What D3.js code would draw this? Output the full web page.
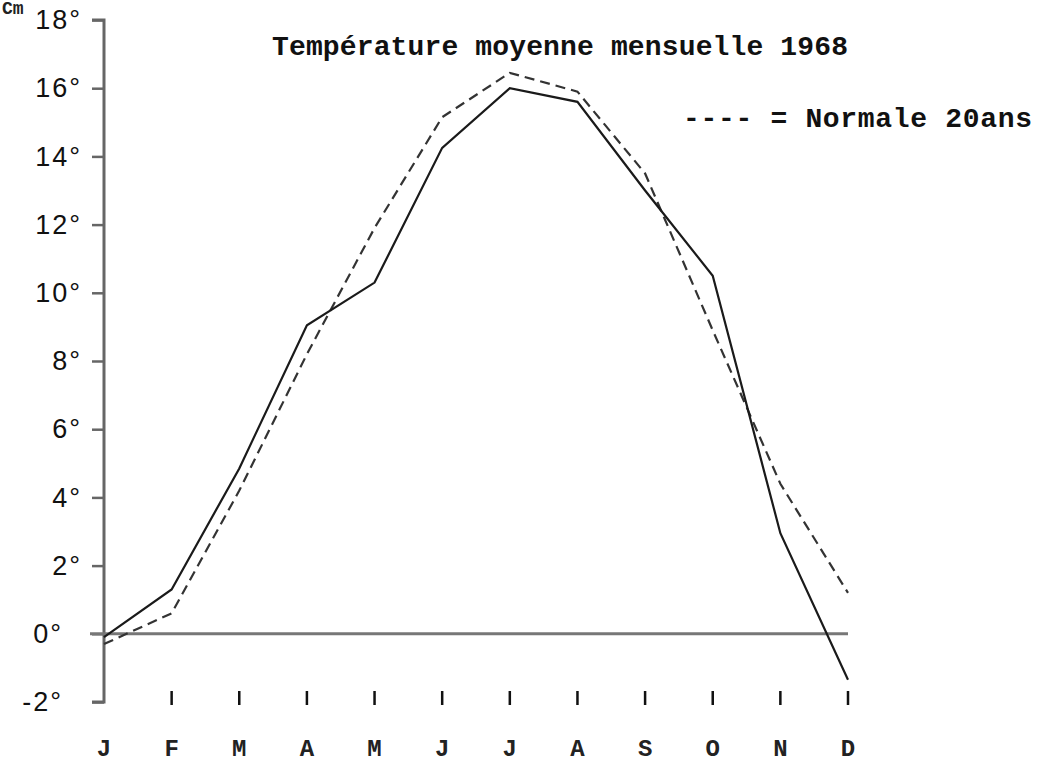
<!DOCTYPE html>
<html>
<head>
<meta charset="utf-8">
<script src="https://cdn.jsdelivr.net/npm/d3@7"></script>
<style>
body{margin:0;background:#fff;overflow:hidden}
</style>
</head>
<body>
<script>
const months = ["J","F","M","A","M","J","J","A","S","O","N","D"]
const temp1968 = [-0.1,1.3,4.85,9.05,10.3,14.25,16.0,15.6,13.0,10.5,2.95,-1.35]
const normale = [-0.3,0.6,4.2,8.2,11.9,15.15,16.45,15.9,13.5,8.9,4.4,1.2]
const yTicks = [-2,0,2,4,6,8,10,12,14,16,18]

const width = 1049,height = 765
const typewriter = "'Liberation Mono','DejaVu Sans Mono',monospace"

const svg = d3.select("body")
    .append("svg")
    .attr("width",width)
    .attr("height",height)

const x = d3.scalePoint().domain(d3.range(12)).range([104,848])
const y = d3.scaleLinear().domain([-2,18]).range([702,20])

// y axis, ticks pointing left
const yAxis = svg.append("g")
    .attr("transform","translate(104,0)")
    .call(d3.axisLeft(y).tickValues(yTicks).tickSize(12).tickPadding(10).tickFormat(d=>d+"°"))
yAxis.select(".domain").attr("stroke","#666").attr("stroke-width",3).attr("d","M-12,702H0V20H-12")
yAxis.selectAll(".tick line").attr("stroke","#666").attr("stroke-width",2.5)
yAxis.selectAll(".tick text")
    .attr("font-family","'Liberation Sans',Arial,sans-serif")
    .attr("font-size",27)
    .attr("letter-spacing",2)
    .attr("fill","#111")
    .attr("x",d=>d<=0?-41:-22)

// zero line
svg.append("line")
    .attr("x1",90).attr("x2",x(11))
    .attr("y1",y(0)).attr("y2",y(0))
    .attr("stroke","#777").attr("stroke-width",3)

// month ticks and labels
svg.selectAll(".mtick")
    .data(d3.range(1,12))
    .join("line")
    .attr("x1",d=>x(d)).attr("x2",d=>x(d))
    .attr("y1",691).attr("y2",705)
    .attr("stroke","#111").attr("stroke-width",2.5)

svg.selectAll(".mlabel")
    .data(months)
    .join("text")
    .attr("x",(d,i)=>x(i))
    .attr("y",756)
    .attr("text-anchor","middle")
    .attr("font-family",typewriter)
    .attr("font-weight","bold")
    .attr("font-size",24)
    .attr("fill","#222")
    .text(d=>d)

const line = d3.line().x((d,i)=>x(i)).y(d=>y(d))

svg.append("path")
    .datum(normale)
    .attr("d",line)
    .attr("fill","none")
    .attr("stroke","#333")
    .attr("stroke-width",2.2)
    .attr("stroke-dasharray","10,6")

svg.append("path")
    .datum(temp1968)
    .attr("d",line)
    .attr("fill","none")
    .attr("stroke","#1a1a1a")
    .attr("stroke-width",2.2)

// texts
svg.append("text")
    .attr("x",2).attr("y",14)
    .attr("font-family",typewriter)
    .attr("font-weight","bold")
    .attr("font-size",18)
    .attr("fill","#222")
    .text("Cm")

svg.append("text")
    .attr("x",272).attr("y",55)
    .attr("font-family",typewriter)
    .attr("font-size",28)
    .attr("font-weight","bold")
    .attr("textLength",576)
    .attr("fill","#111")
    .text("Température moyenne mensuelle 1968")

svg.append("text")
    .attr("x",683).attr("y",127)
    .attr("font-family",typewriter)
    .attr("font-size",28)
    .attr("font-weight","bold")
    .attr("textLength",349)
    .attr("fill","#111")
    .text("---- = Normale 20ans")
</script>
</body>
</html>
